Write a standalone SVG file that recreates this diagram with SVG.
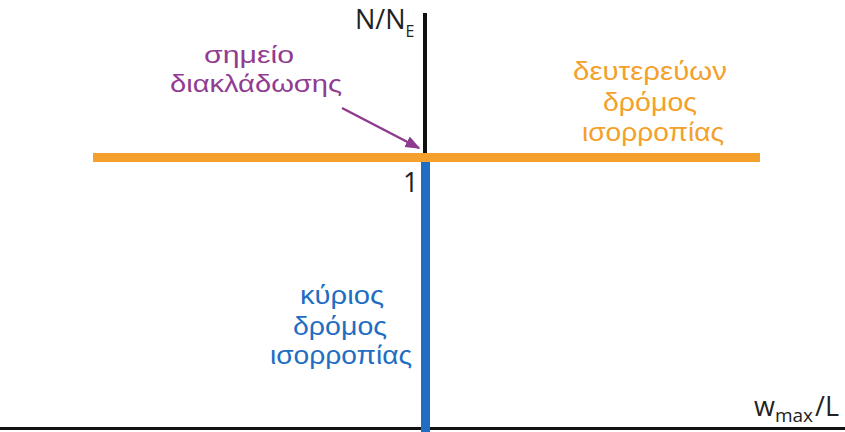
<svg xmlns="http://www.w3.org/2000/svg" width="845" height="432" viewBox="0 0 845 432">
  <defs>
    <marker id="arrowhead" viewBox="0 0 10 10" refX="9" refY="5" markerWidth="6" markerHeight="6" orient="auto" markerUnits="strokeWidth">
      <path d="M0,1 L10,5 L0,9 z" fill="#8e3a8e"/>
    </marker>
    <style>
      text { font-family: "Liberation Sans", Arial, sans-serif; }
      .axis-label { fill: #222; font-size: 27px; font-family: "Open Sans", "Noto Sans", sans-serif; }
      .purple { fill: #913c92; font-size: 24px; text-anchor: middle; }
      .orange { fill: #f3a12c; font-size: 25px; text-anchor: middle; }
      .blue { fill: #1f6ec3; font-size: 25px; text-anchor: middle; }
    </style>
  </defs>
  <rect width="845" height="432" fill="#ffffff"/>

  <g id="connectors">
    <!-- vertical axis N/NE -->
    <line x1="425" y1="13" x2="425" y2="155" stroke="#111" stroke-width="4"/>
    <!-- horizontal axis wmax/L -->
    <line x1="0" y1="428.5" x2="845" y2="428.5" stroke="#111" stroke-width="3"/>
    <!-- primary equilibrium path -->
    <line x1="425.5" y1="158" x2="425.5" y2="432" stroke="#1f6ec3" stroke-width="9"/>
    <!-- secondary equilibrium path -->
    <line x1="93" y1="157.5" x2="760" y2="157.5" stroke="#f3a12c" stroke-width="9"/>
    <!-- pointer to bifurcation point -->
    <line x1="342" y1="108" x2="419" y2="148" stroke="#8e3a8e" stroke-width="2.5" marker-end="url(#arrowhead)"/>
  </g>

  <g id="axis-y-label">
    <text class="axis-label" x="355" y="29">N/N<tspan font-size="16" dy="8">E</tspan></text>
  </g>
  <g id="axis-x-label">
    <text class="axis-label" x="754" y="416">w<tspan font-size="19" dy="6">max</tspan><tspan dy="-6" dx="2">/L</tspan></text>
  </g>
  <g id="tick-one">
    <text class="axis-label" x="403" y="192" font-size="24">1</text>
  </g>

  <g id="bifurcation-label">
    <text class="purple" x="249" y="63" textLength="90" lengthAdjust="spacingAndGlyphs">σημείο</text>
    <text class="purple" x="256" y="92" textLength="172" lengthAdjust="spacingAndGlyphs">διακλάδωσης</text>
  </g>

  <g id="secondary-label">
    <text class="orange" x="650" y="80" textLength="154" lengthAdjust="spacingAndGlyphs">δευτερεύων</text>
    <text class="orange" x="650" y="111" textLength="94" lengthAdjust="spacingAndGlyphs">δρόμος</text>
    <text class="orange" x="653" y="141" textLength="142" lengthAdjust="spacingAndGlyphs">ισορροπίας</text>
  </g>

  <g id="primary-label">
    <text class="blue" x="342" y="304" textLength="84" lengthAdjust="spacingAndGlyphs">κύριος</text>
    <text class="blue" x="340" y="335" textLength="94" lengthAdjust="spacingAndGlyphs">δρόμος</text>
    <text class="blue" x="341" y="364" textLength="142" lengthAdjust="spacingAndGlyphs">ισορροπίας</text>
  </g>
</svg>
